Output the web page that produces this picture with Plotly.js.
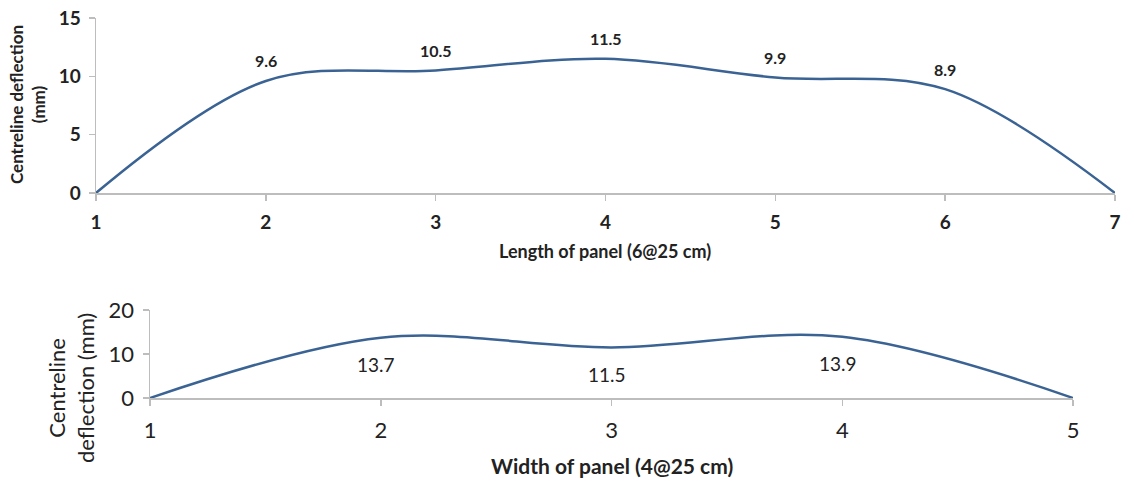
<!DOCTYPE html>
<html>
<head>
<meta charset="utf-8">
<script src="https://cdn.plot.ly/plotly-3.0.1.min.js"></script>
<style>html,body{margin:0;padding:0;background:#fff}#chart{width:1122px;height:480px}</style>
</head>
<body>
<div id="chart"></div>
<script>
// Deflection along the panel length (7 stations) and width (5 stations)
const lengthStations = [1, 2, 3, 4, 5, 6, 7];
const lengthDeflection = [0, 9.6, 10.5, 11.5, 9.9, 8.9, 0];
const widthStations = [1, 2, 3, 4, 5];
const widthDeflection = [0, 13.7, 11.5, 13.9, 0];

const lineColor = '#3a6394';
const axisColor = '#bdbdbd';
const textColor = '#222222';
const fontFam = 'Lato, "Open Sans", sans-serif';

const traces = [
  {
    x: lengthStations, y: lengthDeflection, xaxis: 'x', yaxis: 'y',
    mode: 'lines', line: {color: lineColor, width: 2.5, shape: 'spline', smoothing: 1},
    hoverinfo: 'skip', showlegend: false
  },
  {
    x: widthStations, y: widthDeflection, xaxis: 'x2', yaxis: 'y2',
    mode: 'lines', line: {color: lineColor, width: 2.5, shape: 'spline', smoothing: 1},
    hoverinfo: 'skip', showlegend: false
  }
];

// Value labels: above the points on the length chart, below on the width chart
const annotations = [];
lengthStations.forEach((s, i) => {
  const v = lengthDeflection[i];
  if (v === 0) return;
  annotations.push({
    x: s, y: v, xref: 'x', yref: 'y', text: String(v), showarrow: false,
    xanchor: 'center', yanchor: 'middle',
    yshift: 20, font: {family: fontFam, size: 16, color: textColor, weight: 'bold'}
  });
});
widthStations.forEach((s, i) => {
  const v = widthDeflection[i];
  if (v === 0) return;
  annotations.push({
    x: s - 0.02, y: v, xref: 'x2', yref: 'y2', text: String(v), showarrow: false,
    xanchor: 'center', yanchor: 'middle',
    yshift: -27, font: {family: fontFam, size: 19, color: textColor}
  });
});

// Axis titles
const titleBase = {xref: 'paper', yref: 'paper', showarrow: false, xanchor: 'center', yanchor: 'middle'};
annotations.push(
  Object.assign({}, titleBase, {x: 27 / 1122, y: 1 - 105 / 480, text: 'Centreline deflection<br>(mm)',
   textangle: -90, font: {family: fontFam, size: 17, color: textColor, weight: 'bold'}}),
  Object.assign({}, titleBase, {x: 605 / 1122, y: 1 - 251 / 480, text: 'Length of panel (6@25 cm)',
   font: {family: fontFam, size: 18, color: textColor, weight: 'bold'}}),
  Object.assign({}, titleBase, {x: 71 / 1122, y: 1 - 388 / 480, text: 'Centreline<br>deflection (mm)',
   textangle: -90, font: {family: fontFam, size: 22, color: textColor}}),
  Object.assign({}, titleBase, {x: 612 / 1122, y: 1 - 465 / 480, text: 'Width of panel (4@25 cm)',
   font: {family: fontFam, size: 21, color: textColor, weight: 'bold'}})
);

const baseAxis = {
  showgrid: false, zeroline: false, showline: true, linecolor: axisColor, linewidth: 1.5,
  ticks: 'outside', ticklen: 6, tickcolor: axisColor, tickwidth: 1.5, fixedrange: true
};

const layout = {
  width: 1122, height: 480,
  margin: {l: 0, r: 0, t: 0, b: 0},
  paper_bgcolor: '#ffffff', plot_bgcolor: '#ffffff',
  showlegend: false,
  xaxis: Object.assign({}, baseAxis, {
    domain: [96 / 1122, 1115 / 1122], anchor: 'y', range: [1, 7], tickvals: lengthStations,
    ticklabelstandoff: 6,
    tickfont: {family: fontFam, size: 19, color: textColor, weight: 'bold'}
  }),
  yaxis: Object.assign({}, baseAxis, {
    domain: [1 - 193 / 480, 1 - 18 / 480], anchor: 'x', range: [0, 15], tickvals: [0, 5, 10, 15],
    ticklabelstandoff: 4,
    tickfont: {family: fontFam, size: 19, color: textColor, weight: 'bold'}
  }),
  xaxis2: Object.assign({}, baseAxis, {
    domain: [150 / 1122, 1073 / 1122], anchor: 'y2', range: [1, 5], tickvals: widthStations,
    ticklabelstandoff: 6,
    tickfont: {family: fontFam, size: 22, color: textColor}
  }),
  yaxis2: Object.assign({}, baseAxis, {
    domain: [1 - 398 / 480, 1 - 310 / 480], anchor: 'x2', range: [0, 20], tickvals: [0, 10, 20],
    ticklabelstandoff: 4,
    tickfont: {family: fontFam, size: 22, color: textColor}
  }),
  annotations: annotations
};

Plotly.newPlot('chart', traces, layout, {displayModeBar: false, staticPlot: true});
</script>
</body>
</html>
